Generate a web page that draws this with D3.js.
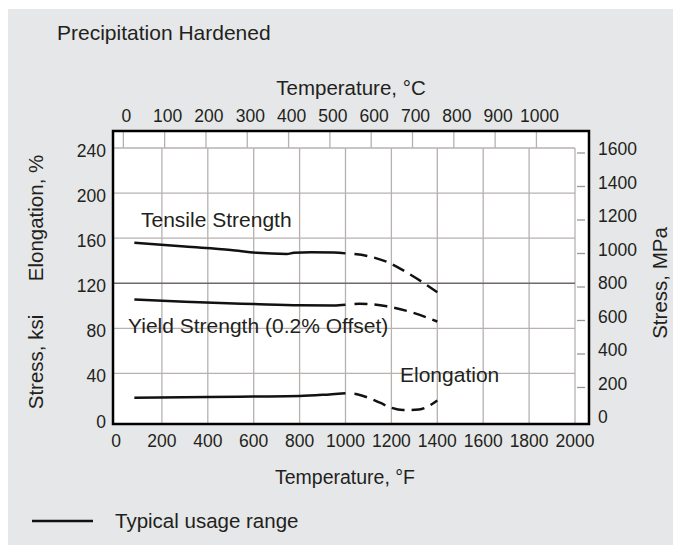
<!DOCTYPE html>
<meta charset="utf-8">
<style>
  body { margin: 0; background: #fff; }
  text { font-family: "Liberation Sans", Arial, sans-serif; fill: #231f20; }
</style>
<svg width="673" height="547"></svg>
<script src="https://d3js.org/d3.v7.min.js"></script>
<script>

// temperature, °F  /  value (ksi or %)
var tensileSolid = [[80, 156], [300, 152.5], [500, 149.5], [613, 147], [744, 146], [775, 147], [850, 147.5], [950, 147.3], [1000, 146.5]];
var tensileDashed = [[1000, 146.5], [1100, 144], [1180, 139], [1280, 128], [1400, 112]];
var yieldSolid = [[80, 105.5], [300, 103.5], [600, 101.6], [800, 100.5], [950, 100.3], [1000, 101]];
var yieldDashed = [[1000, 101], [1060, 101.8], [1120, 101.2], [1180, 99.5], [1300, 93.5], [1400, 86]];
var elongSolid = [[80, 18.5], [400, 19], [600, 19.5], [800, 20], [900, 21], [1000, 22.5]];
var elongDashed = [[1000, 22.5], [1050, 21.5], [1150, 14], [1200, 9.5], [1250, 7.5], [1320, 8], [1400, 16]];

var fTicks = [0, 200, 400, 600, 800, 1000, 1200, 1400, 1600, 1800, 2000];
var cTicks = [0, 100, 200, 300, 400, 500, 600, 700, 800, 900, 1000];
var ksiTicks = [0, 40, 80, 120, 160, 200, 240];
var mpaTicks = [0, 200, 400, 600, 800, 1000, 1200, 1400, 1600];

var svg = d3.select("svg");

var x = d3.scaleLinear().domain([0, 2000]).range([116, 575]);
var y = d3.scaleLinear().domain([0, 240]).range([418.5, 148]);
var yMpa = d3.scaleLinear().domain([0, 1600]).range([421, 153]);
var plot = {left: 113, right: 589, top: 131, bottom: 424};

svg.append("rect")
    .attr("x", 8).attr("y", 9)
    .attr("width", 665).attr("height", 536)
    .attr("fill", "#e6e7e8");

svg.append("rect")
    .attr("x", plot.left).attr("y", plot.top)
    .attr("width", plot.right - plot.left).attr("height", plot.bottom - plot.top)
    .attr("fill", "#fff");

// grid
svg.append("g").selectAll("line")
  .data(fTicks.slice(1))
  .join("line")
    .attr("x1", d => x(d)).attr("x2", d => x(d))
    .attr("y1", y(240)).attr("y2", plot.bottom)
    .attr("stroke", "#b7b2b0").attr("stroke-width", 1.3);

svg.append("g").selectAll("line")
  .data(ksiTicks.slice(1))
  .join("line")
    .attr("x1", plot.left).attr("x2", x(2000))
    .attr("y1", d => y(d)).attr("y2", d => y(d))
    .attr("stroke", d => d == 120 ? "#6d6a69" : "#b7b2b0").attr("stroke-width", 1.3);

// top ticks (°C)
svg.append("g").selectAll("line")
  .data(cTicks)
  .join("line")
    .attr("x1", d => x(d * 1.8 + 32)).attr("x2", d => x(d * 1.8 + 32))
    .attr("y1", plot.top).attr("y2", y(240))
    .attr("stroke", "#b7b2b0").attr("stroke-width", 1.3);

// right ticks (MPa)
svg.append("g").selectAll("line")
  .data(mpaTicks.slice(1))
  .join("line")
    .attr("x1", 577).attr("x2", 585)
    .attr("y1", d => yMpa(d)).attr("y2", d => yMpa(d))
    .attr("stroke", "#9a9695").attr("stroke-width", 1.3);

svg.append("rect")
    .attr("x", plot.left).attr("y", plot.top)
    .attr("width", plot.right - plot.left).attr("height", plot.bottom - plot.top)
    .attr("fill", "none").attr("stroke", "#000").attr("stroke-width", 2.5);

// tick labels
svg.append("g").selectAll("text")
  .data(fTicks)
  .join("text")
    .attr("x", d => x(d)).attr("y", 447)
    .attr("text-anchor", "middle").attr("font-size", 17.5)
    .text(d => d);

svg.append("g").selectAll("text")
  .data(cTicks)
  .join("text")
    .attr("x", d => x(d * 1.8 + 32) + 3).attr("y", 122)
    .attr("text-anchor", "middle").attr("font-size", 17.5)
    .text(d => d);

svg.append("g").selectAll("text")
  .data(ksiTicks)
  .join("text")
    .attr("x", 106).attr("y", d => y(d) + 9)
    .attr("text-anchor", "end").attr("font-size", 17.5)
    .text(d => d);

svg.append("g").selectAll("text")
  .data(mpaTicks)
  .join("text")
    .attr("x", 598).attr("y", d => yMpa(d) + 2)
    .attr("font-size", 17.5)
    .text(d => d);

// curves
var line = d3.line()
    .x(d => x(d[0]))
    .y(d => y(d[1]))
    .curve(d3.curveMonotoneX);

[tensileSolid, yieldSolid, elongSolid].forEach(function(s) {
  svg.append("path")
      .datum(s)
      .attr("fill", "none")
      .attr("stroke", "#111")
      .attr("stroke-width", 2.5)
      .attr("d", line);
});

[tensileDashed, yieldDashed, elongDashed].forEach(function(s) {
  svg.append("path")
      .datum(s)
      .attr("fill", "none")
      .attr("stroke", "#111")
      .attr("stroke-width", 2.5)
      .attr("stroke-dasharray", "0,9,13,7,13,7,13,7,13,7,13,7,13,7,13,7,13,7")
      .attr("d", line);
});

// labels
svg.append("text").attr("x", 141).attr("y", 227).attr("font-size", 21).text("Tensile Strength");
svg.append("text").attr("x", 128).attr("y", 333).attr("font-size", 21).text("Yield Strength (0.2% Offset)");
svg.append("text").attr("x", 400).attr("y", 382).attr("font-size", 21).text("Elongation");

svg.append("text").attr("x", 57).attr("y", 40).attr("font-size", 21).text("Precipitation Hardened");
svg.append("text").attr("x", 351).attr("y", 95).attr("text-anchor", "middle").attr("font-size", 20.5).text("Temperature, °C");
svg.append("text").attr("x", 345).attr("y", 484).attr("text-anchor", "middle").attr("font-size", 19.5).text("Temperature, °F");

svg.append("text")
    .attr("transform", "translate(43,218) rotate(-90)")
    .attr("text-anchor", "middle").attr("font-size", 20.5)
    .text("Elongation, %");
svg.append("text")
    .attr("transform", "translate(43,362) rotate(-90)")
    .attr("text-anchor", "middle").attr("font-size", 20.5)
    .text("Stress, ksi");
svg.append("text")
    .attr("transform", "translate(667,283) rotate(-90)")
    .attr("text-anchor", "middle").attr("font-size", 20.5)
    .text("Stress, MPa");

// legend
svg.append("line")
    .attr("x1", 32).attr("x2", 93).attr("y1", 521).attr("y2", 521)
    .attr("stroke", "#111").attr("stroke-width", 2.5);
svg.append("text").attr("x", 115).attr("y", 528).attr("font-size", 20.5).text("Typical usage range");

</script>
